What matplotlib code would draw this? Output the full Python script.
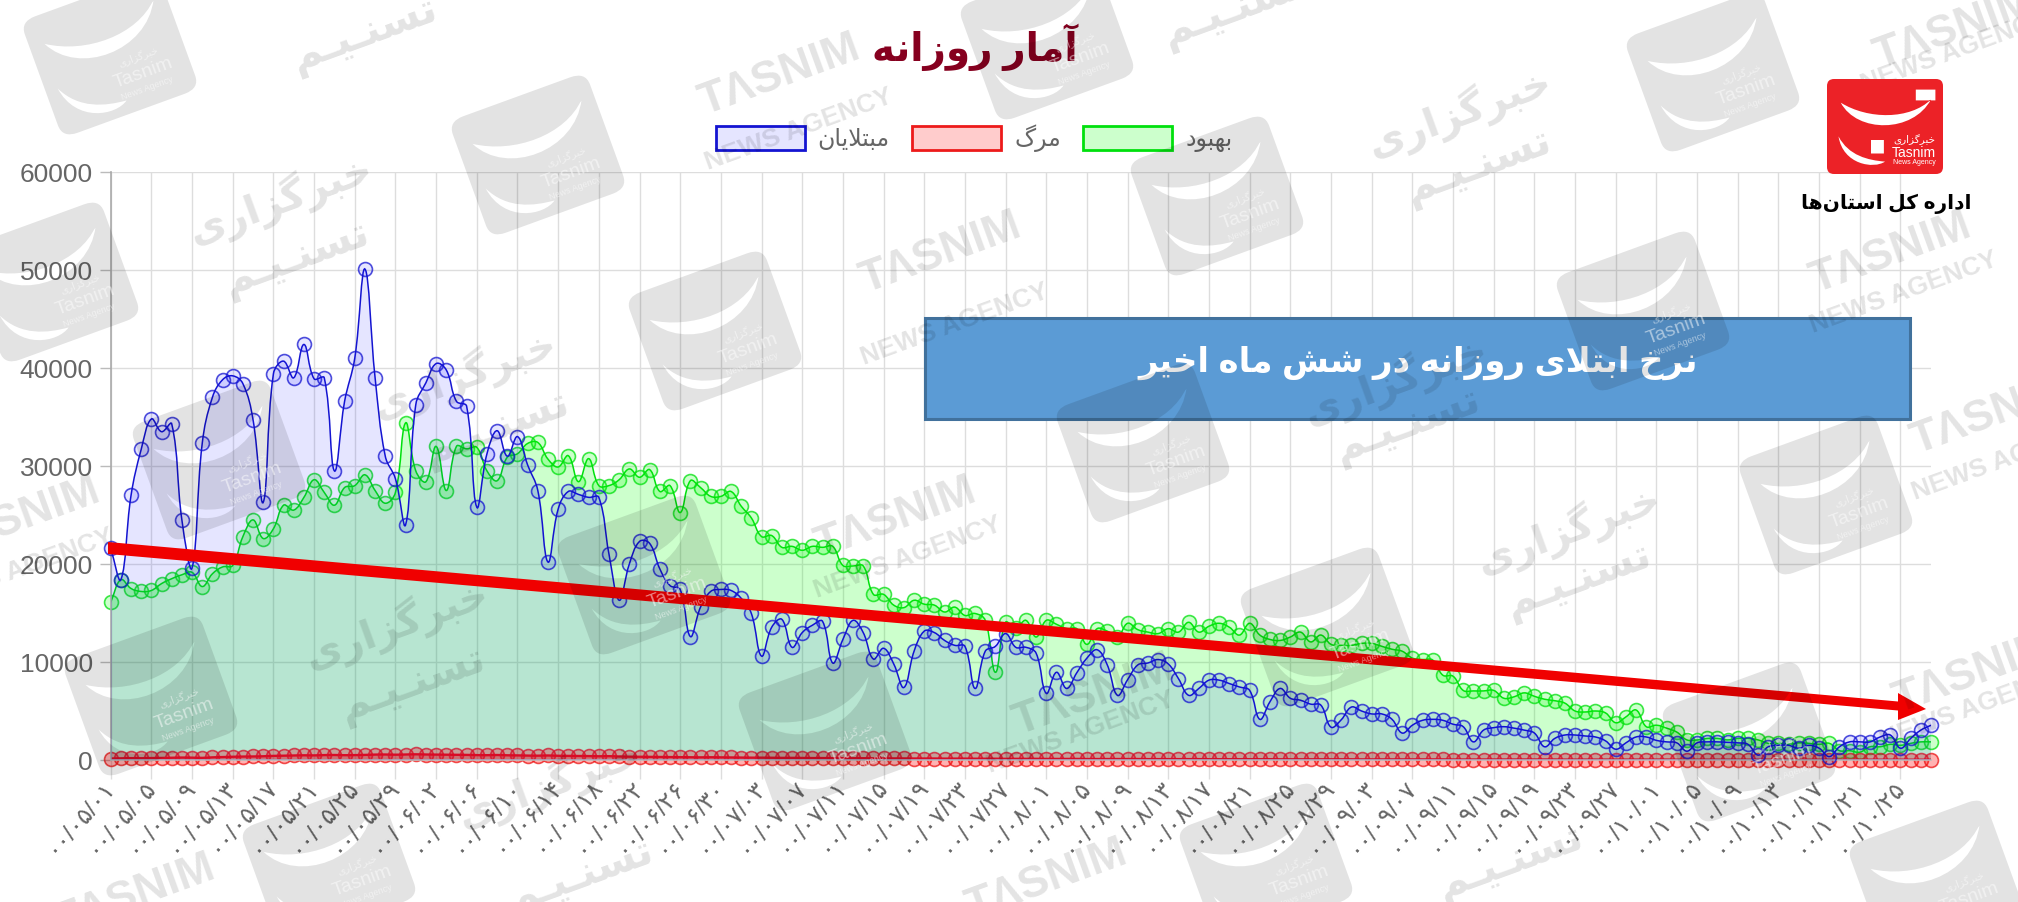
import matplotlib
matplotlib.use('Agg')
import matplotlib.pyplot as plt
from matplotlib.patches import FancyBboxPatch, PathPatch, Patch, Polygon, Rectangle
from matplotlib.path import Path
from matplotlib.transforms import Affine2D

plt.rcParams['font.family'] = ['Liberation Sans', 'DejaVu Sans']

# daily values, first to last day
infected = [21600, 18400, 27000, 31700, 34800, 33500, 34300, 24500, 19600, 32300,
            37000, 38800, 39200, 38400, 34700, 26300, 39400, 40700, 39000, 42400,
            38900, 39000, 29500, 36600, 41000, 50100, 39000, 31000, 28700, 24000,
            36250, 38500, 40450, 39800, 36600, 36100, 25800, 31250, 33600, 31000,
            33000, 30100, 27500, 20200, 25600, 27400, 27100, 26800, 26800, 21000,
            16300, 20000, 22300, 22100, 19500, 17800, 17400, 12600, 15600, 17200,
            17400, 17300, 16500, 14950, 10600, 13550, 14350, 11500, 13000, 13750,
            14150, 9900, 12300, 14250, 13000, 10300, 11400, 9800, 7400, 11100,
            13150, 13000, 12200, 11700, 11600, 7300, 11100, 11600, 12900, 11500,
            11500, 10900, 6800, 8950, 7300, 8900, 10400, 11250, 9700, 6600,
            8200, 9700, 9900, 10250, 9800, 8300, 6600, 7300, 8150, 8150,
            7800, 7450, 7100, 4150, 5950, 7300, 6300, 6100, 5700, 5600,
            3350, 4100, 5400, 5000, 4700, 4700, 4150, 2750, 3550, 4050,
            4150, 4050, 3650, 3400, 1850, 3050, 3300, 3400, 3250, 3050,
            2750, 1350, 2200, 2550, 2550, 2450, 2350, 1950, 1100, 1750,
            2350, 2350, 2000, 1850, 1750, 900, 1750, 1850, 1850, 1800,
            1750, 1600, 500, 1350, 1500, 1500, 1200, 1500, 1200, 350,
            1350, 1850, 1850, 1850, 2350, 2550, 1200, 2200, 3050, 3550]
recovered = [16100, 18400, 17500, 17200, 17300, 18000, 18500, 18900, 19150, 17700,
             19000, 19700, 19850, 22800, 24500, 22600, 23600, 26000, 25500, 26800,
             28600, 27300, 26000, 27800, 28000, 29100, 27500, 26200, 27300, 34400,
             29500, 28400, 32000, 27500, 32000, 31750, 31900, 29500, 28500, 30900,
             31250, 32300, 32400, 30700, 29900, 31050, 28400, 30750, 28000, 28000,
             28600, 29700, 28850, 29630, 27400, 28000, 25250, 28500, 27800, 26900,
             26900, 27400, 25900, 24700, 22800, 22900, 21700, 21800, 21400, 21800,
             21700, 21800, 19850, 19800, 19800, 16900, 16900, 15800, 15550, 16300,
             15900, 15800, 15100, 15600, 14750, 14950, 14250, 8950, 14050, 13450,
             14250, 12550, 14250, 13850, 13400, 13400, 11800, 13400, 13150, 12550,
             13950, 13300, 13050, 12900, 13400, 13050, 14050, 13050, 13650, 13950,
             13550, 12750, 13950, 12750, 12300, 12200, 12550, 13050, 12050, 12750,
             11800, 11700, 11700, 11900, 11900, 11600, 11300, 11100, 10400, 10250,
             10200, 8650, 8550, 7100, 7050, 7050, 7100, 6300, 6450, 6850,
             6500, 6200, 6050, 5800, 5000, 4900, 5000, 4800, 3800, 4400,
             5100, 3400, 3550, 3250, 2850, 2050, 2050, 2200, 2200, 2050,
             2200, 2200, 2050, 1700, 1700, 1600, 1750, 1700, 1600, 1700,
             950, 950, 800, 1350, 1350, 1600, 1500, 1700, 1850, 1850]
deaths = [150, 170, 190, 180, 200, 210, 230, 250, 240, 220,
          270, 300, 330, 350, 360, 380, 420, 440, 460, 480,
          470, 500, 510, 490, 500, 520, 550, 560, 540, 560,
          580, 560, 550, 540, 530, 520, 500, 490, 510, 480,
          470, 450, 440, 460, 430, 420, 410, 400, 380, 390,
          360, 340, 330, 320, 310, 300, 290, 280, 270, 280,
          270, 260, 250, 240, 240, 230, 220, 220, 210, 200,
          200, 190, 190, 180, 180, 170, 170, 160, 160, 150,
          150, 150, 140, 140, 140, 130, 130, 130, 120, 120,
          120, 120, 110, 110, 110, 110, 100, 100, 100, 100,
          100, 100, 90, 90, 90, 90, 90, 90, 80, 80,
          80, 80, 80, 80, 80, 70, 70, 70, 70, 70,
          70, 70, 70, 60, 60, 60, 60, 60, 60, 60,
          60, 60, 50, 50, 50, 50, 50, 50, 50, 50,
          50, 50, 50, 40, 40, 40, 40, 40, 40, 40,
          40, 40, 40, 40, 30, 30, 30, 30, 30, 30,
          30, 30, 30, 30, 30, 30, 30, 30, 30, 30,
          30, 30, 30, 30, 30, 30, 30, 30, 30, 30]

tick_dates = ['00/05/01', '00/05/05', '00/05/09', '00/05/13', '00/05/17', '00/05/21', '00/05/25', '00/05/29',
              '00/06/02', '00/06/06', '00/06/10', '00/06/14', '00/06/18', '00/06/22', '00/06/26', '00/06/30',
              '00/07/03', '00/07/07', '00/07/11', '00/07/15', '00/07/19', '00/07/23', '00/07/27',
              '00/08/01', '00/08/05', '00/08/09', '00/08/13', '00/08/17', '00/08/21', '00/08/25', '00/08/29',
              '00/09/03', '00/09/07', '00/09/11', '00/09/15', '00/09/19', '00/09/23', '00/09/27',
              '00/10/01', '00/10/05', '00/10/09', '00/10/13', '00/10/17', '00/10/21', '00/10/25']
y_ticks = [0, 10000, 20000, 30000, 40000, 50000, 60000]

# watermark positions on the image, in pixels from the top left
logo_marks = [(110, 55), (538, 155), (52, 282), (219, 460), (715, 331), (151, 696), (644, 575), (825, 731),
              (329, 863), (1047, 40), (1713, 72), (1217, 196), (1643, 311), (1143, 443), (1826, 495),
              (1327, 627), (1749, 742), (1266, 863), (1936, 880)]
top_line_marks = [(280, 199), (396, 624), (464, 374), (549, 783), (1459, 112), (1395, 380), (1568, 529)]
bottom_line_marks = [(296, 259), (412, 685), (496, 429), (364, 35), (580, 877), (1478, 167), (1407, 426),
                     (1578, 581), (1235, 10), (1510, 863)]
tasnim_marks = [(780, 75), (896, 518), (941, 253), (20, 518), (1891, 253), (1955, 29), (1094, 695), (1974, 673),
                (1992, 414), (1047, 880), (135, 895)]
agency_marks = [(799, 130), (908, 558), (955, 325), (20, 570), (1904, 293), (1955, 52), (1081, 733), (1974, 708),
                (2006, 460)]

# matplotlib does no arabic shaping, so pick the joined glyphs by hand
FORMS = {'آ': (0xFE81, 0xFE82), 'ا': (0xFE8D, 0xFE8E), 'د': (0xFEA9, 0xFEAA), 'ر': (0xFEAD, 0xFEAE),
         'ز': (0xFEAF, 0xFEB0), 'و': (0xFEED, 0xFEEE), '\ufefb': (0xFEFB, 0xFEFC),
         'ب': (0xFE8F, 0xFE90, 0xFE91, 0xFE92), 'ت': (0xFE95, 0xFE96, 0xFE97, 0xFE98),
         'خ': (0xFEA5, 0xFEA6, 0xFEA7, 0xFEA8), 'س': (0xFEB1, 0xFEB2, 0xFEB3, 0xFEB4),
         'ش': (0xFEB5, 0xFEB6, 0xFEB7, 0xFEB8), 'ل': (0xFEDD, 0xFEDE, 0xFEDF, 0xFEE0),
         'م': (0xFEE1, 0xFEE2, 0xFEE3, 0xFEE4), 'ن': (0xFEE5, 0xFEE6, 0xFEE7, 0xFEE8),
         'ه': (0xFEE9, 0xFEEA, 0xFEEB, 0xFEEC), 'ک': (0xFB8E, 0xFB8F, 0xFB90, 0xFB91),
         'گ': (0xFB92, 0xFB93, 0xFB94, 0xFB95), 'ی': (0xFBFC, 0xFBFD, 0xFBFE, 0xFBFF),
         'ـ': (0x640, 0x640, 0x640, 0x640)}


def shape(text):
    text = text.replace('لا', '\ufefb')
    out = []
    for i, c in enumerate(text):
        if c not in FORMS:
            if c != '\u200c':
                out.append(c)
            continue
        forms = FORMS[c]
        before = i > 0 and text[i - 1] in FORMS and len(FORMS[text[i - 1]]) == 4
        after = i + 1 < len(text) and text[i + 1] in FORMS and len(forms) == 4
        if before and after:
            out.append(chr(forms[3]))
        elif after:
            out.append(chr(forms[2]))
        elif before:
            out.append(chr(forms[1]))
        else:
            out.append(chr(forms[0]))
    return ''.join(reversed(out))


def curve(xs, ys, x_scale, y_scale, tension=0.4):
    # same bezier the web chart library uses, distances measured on screen
    px = [x * x_scale for x in xs]
    py = [y * y_scale for y in ys]
    verts = [(xs[0], ys[0])]
    codes = [Path.MOVETO]
    n = len(xs)
    before = []
    after = []
    for i in range(n):
        p = max(i - 1, 0)
        q = min(i + 1, n - 1)
        d1 = ((px[i] - px[p]) ** 2 + (py[i] - py[p]) ** 2) ** 0.5
        d2 = ((px[q] - px[i]) ** 2 + (py[q] - py[i]) ** 2) ** 0.5
        total = d1 + d2
        fa = tension * d1 / total
        fb = tension * d2 / total
        before.append((xs[i] - fa * (xs[q] - xs[p]), ys[i] - fa * (ys[q] - ys[p])))
        after.append((xs[i] + fb * (xs[q] - xs[p]), ys[i] + fb * (ys[q] - ys[p])))
    for i in range(1, n):
        verts += [after[i - 1], before[i], (xs[i], ys[i])]
        codes += [Path.CURVE4, Path.CURVE4, Path.CURVE4]
    return verts, codes


to_persian = str.maketrans('0123456789', '۰۱۲۳۴۵۶۷۸۹')

fig = plt.figure(figsize=(20.18, 9.02), dpi=100)
ax = fig.add_axes([110.7 / 2018, 1 - 760 / 902, (1931 - 110.7) / 2018, (760 - 172) / 902])

days = list(range(len(infected)))
series = [(recovered, (0, 0.88, 0.05), (0, 1, 0, 0.2), 1, 1.1),
          (deaths, (0.93, 0.08, 0.08), (1, 0, 0, 0.3), 2, 1.7),
          (infected, (0.08, 0.08, 0.82), (0, 0, 1, 0.1), 3, 1.1)]
for values, edge, face, z, lw in series:
    verts, codes = curve(days, values, 10.17, 588 / 60000)
    area = Path(verts + [(days[-1], 0), (0, 0), (0, 0)], codes + [Path.LINETO, Path.LINETO, Path.CLOSEPOLY])
    ax.add_patch(PathPatch(area, facecolor=face, edgecolor='none', zorder=z))
    ax.add_patch(PathPatch(Path(verts, codes), facecolor='none', edgecolor=edge, linewidth=lw, zorder=z + 0.5))
    ax.plot(days, values, linestyle='none', marker='o', markersize=10,
            markerfacecolor=face, markeredgecolor=edge + (0.75,), markeredgewidth=1.2,
            clip_on=False, zorder=z + 0.5)

ax.set_xlim(0, len(days) - 1)
ax.set_ylim(0, 60000)
ax.set_yticks(y_ticks)
ax.set_xticks(range(0, 4 * len(tick_dates), 4))
ax.set_xticklabels([d.translate(to_persian) for d in tick_dates], rotation=49, ha='right', va='center',
                   rotation_mode='anchor', fontsize=17.5, color='#666666')
ax.tick_params(axis='x', length=14, color='#dddddd', width=1.0, pad=2)
ax.tick_params(axis='y', length=8, color='#bbbbbb', width=1.0, labelsize=19, labelcolor='#666666', pad=5)
ax.grid(True, color='#dddddd', linewidth=1.0)
ax.set_axisbelow(True)
for side in ['top', 'right']:
    ax.spines[side].set_visible(False)
ax.spines['left'].set_color('#aaaaaa')
ax.spines['left'].set_linewidth(1.2)
ax.spines['bottom'].set_color('#bbbbbb')
ax.spines['bottom'].set_linewidth(1.2)

handles = [Patch(facecolor=(0, 0, 1, 0.1), edgecolor=(0.08, 0.08, 0.82), linewidth=2, label=shape('مبتلایان')),
           Patch(facecolor=(1, 0, 0, 0.2), edgecolor=(0.93, 0.1, 0.1), linewidth=2, label=shape('مرگ')),
           Patch(facecolor=(0, 1, 0, 0.2), edgecolor=(0, 0.88, 0.05), linewidth=2, label=shape('بهبود'))]
legend = ax.legend(handles=handles, ncol=3, frameon=False, loc='center', bbox_to_anchor=(974 / 2018, 1 - 138 / 902),
                   bbox_transform=fig.transFigure, fontsize=17, handlelength=3.77, handleheight=1.19,
                   handletextpad=0.55, columnspacing=0.95, labelcolor='#666666')

fig.text(975 / 2018, 1 - 47 / 902, shape('آمار روزانه'), ha='center', va='center', fontsize=28,
         fontweight='bold', color='#86001f')

# everything below is placed in image pixels on a see-through axes over the chart
over = fig.add_axes([0, 0, 1, 1], zorder=5)
over.set_xlim(0, 2018)
over.set_ylim(902, 0)
over.axis('off')
over.patch.set_alpha(0)

# trend arrow
over.add_patch(Polygon([(108, 542), (1898, 701.5), (1898, 693), (1926, 709), (1898, 720), (1898, 710.5), (108, 554)],
                       closed=True, facecolor='#f00000', edgecolor='none', zorder=2))

# caption box
over.add_patch(Rectangle((925, 318), 985, 101, facecolor='#5b9bd5', edgecolor='#41719c', linewidth=2.2, zorder=2))
over.text(1418, 363, shape('نرخ ابتلای روزانه در شش ماه اخیر'), ha='center', va='center', fontsize=24.5,
          fontweight='bold', color='white', zorder=3)


def swoosh_path():
    # the two swooshes and dots of the logo, unit box around 0,0, y down
    verts = [(-0.79, -0.53), (-0.5, 0.15), (0.5, 0.15), (0.82, -0.6), (0.45, -0.15), (-0.3, -0.15), (-0.79, -0.53),
             (-0.83, 0.22), (-0.75, 0.85), (-0.2, 0.95), (0.0, 0.78), (-0.3, 0.75), (-0.65, 0.65), (-0.83, 0.22),
             (0.55, -0.82), (0.9, -0.82), (0.9, -0.58), (0.55, -0.58), (0.55, -0.82),
             (-0.25, 0.3), (-0.02, 0.3), (-0.02, 0.6), (-0.25, 0.6), (-0.25, 0.3)]
    codes = [Path.MOVETO, Path.CURVE4, Path.CURVE4, Path.CURVE4, Path.CURVE4, Path.CURVE4, Path.CURVE4,
             Path.MOVETO, Path.CURVE4, Path.CURVE4, Path.CURVE4, Path.CURVE4, Path.CURVE4, Path.CURVE4,
             Path.MOVETO, Path.LINETO, Path.LINETO, Path.LINETO, Path.CLOSEPOLY,
             Path.MOVETO, Path.LINETO, Path.LINETO, Path.LINETO, Path.CLOSEPOLY]
    return Path(verts, codes)


box_path = FancyBboxPatch((-0.82, -0.82), 1.64, 1.64, boxstyle='round,pad=0.18,rounding_size=0.22').get_path()
hole_path = swoosh_path()
mark_path = Path.make_compound_path(box_path, hole_path)

# the grey watermark layer, tilted 20 degrees
grey = (0, 0, 0, 0.11)
for x, y in logo_marks:
    place = Affine2D().scale(73, 62).rotate_deg(-20).translate(x, y)
    over.add_patch(PathPatch(mark_path, transform=place + over.transData, facecolor=grey, edgecolor='none', zorder=5))
    over.text(x + 28, y + 2, shape('خبرگزاری'), rotation=20, ha='center', va='center', fontsize=7.5,
              color=(1, 1, 1, 0.5), zorder=5)
    over.text(x + 33, y + 18, 'Tasnim', rotation=20, ha='center', va='center', fontsize=14, color=(1, 1, 1, 0.5),
              zorder=5)
    over.text(x + 37, y + 33, 'News Agency', rotation=20, ha='center', va='center', fontsize=6.5,
              color=(1, 1, 1, 0.5), zorder=5)
for x, y in top_line_marks:
    over.text(x, y, shape('خبرگزاری'), rotation=20, ha='center', va='center', fontsize=29, fontweight='bold',
              color=grey, zorder=5)
for x, y in bottom_line_marks:
    over.text(x, y, shape('تسنـیـم'), rotation=20, ha='center', va='center', fontsize=30, fontweight='bold',
              color=grey, zorder=5)
for x, y in tasnim_marks:
    over.text(x, y, 'TΛSNIM', rotation=20, ha='center', va='center', fontsize=32, fontweight='bold',
              color=grey, zorder=5)
for x, y in agency_marks:
    over.text(x, y, 'NEWS AGENCY', rotation=20, ha='center', va='center', fontsize=19, fontweight='bold',
              color=grey, zorder=5)

# the red agency logo sits on top of the watermarks
over.add_patch(FancyBboxPatch((1833, 85), 104, 83, boxstyle='round,pad=6,rounding_size=7', facecolor='#ec2227',
                              edgecolor='none', zorder=6))
place = Affine2D().scale(56, 45).translate(1885, 126.5)
over.add_patch(PathPatch(hole_path, transform=place + over.transData, facecolor='white', edgecolor='none', zorder=7))
over.text(1914, 140, shape('خبرگزاری'), ha='center', va='center', fontsize=7.5, color='white', zorder=7)
over.text(1914, 153, 'Tasnim', ha='center', va='center', fontsize=10, color='white', zorder=7)
over.text(1914, 163, 'News Agency', ha='center', va='center', fontsize=5, color='white', zorder=7)
over.text(1886, 204, shape('اداره کل استان\u200cها'), ha='center', va='center', fontsize=14.5, fontweight='bold',
          color='black', zorder=7)

fig.savefig('out.png', dpi=100)
